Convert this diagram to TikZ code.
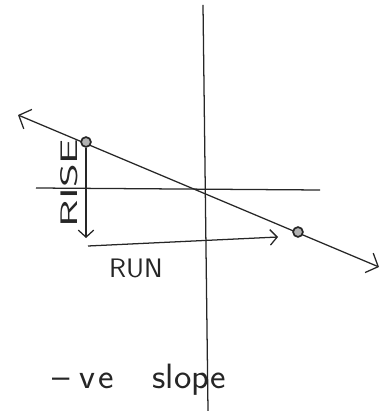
\documentclass[tikz,border=0pt]{standalone}
\usepackage{tikz}
\usepackage{graphicx}
\usetikzlibrary{arrows.meta}

\begin{document}
\begin{tikzpicture}[x=0.025cm, y=-0.025cm,
    pen/.style={line width=0.9pt, black!85},
    bigbarb/.style={{Straight Barb[length=7pt, width=15pt]}-{Straight Barb[length=7pt, width=15pt]}},
    barb/.style={-{Straight Barb[length=5pt, width=11pt]}},
    dot/.style={circle, draw=black!85, line width=1.2pt, fill=gray!60, inner sep=0pt, minimum size=7pt},
    hand/.style={black!85, font=\sffamily}]
    \useasboundingbox (0,0) rectangle (380,411);

    % Axes
    \coordinate (ytop) at (203,5);
    \coordinate (ybot) at (208,411);
    \coordinate (xleft) at (36,188);
    \coordinate (xright) at (320,190);
    \draw[pen] (ytop) -- (ybot);
    \draw[pen] (xleft) -- (xright);

    % Line going down to the right
    \coordinate (lstart) at (18,115);
    \coordinate (lend) at (379,267);
    \draw[pen, bigbarb] (lstart) -- (lend);

    % Two points on the line
    \node[dot] (p) at (86,142) {};
    \node[dot] (q) at (298,232) {};

    % Rise
    \coordinate (risebot) at (86,238);
    \draw[pen, barb] (p) -- (risebot);
    \node[hand, rotate=90, font=\sffamily\fontsize{17}{20}\selectfont]
        (rise) at (69,183) {\scalebox{1.9}[1]{RISE}};

    % Run
    \coordinate (runstart) at (88,246);
    \coordinate (runend) at (278,237);
    \draw[pen, barb] (runstart) -- (runend);
    \node[hand, font=\sffamily\fontsize{19}{22}\selectfont]
        (run) at (136,268) {\scalebox{1.05}[1]{RUN}};

    % Caption
    \node[hand, anchor=base west, inner sep=0pt, font=\sffamily\fontsize{25}{30}\selectfont]
        (cap) at (52,388) {\scalebox{1.05}[1]{--\hspace{7pt}v\hspace{2pt}e\hspace{26pt}slope}};
\end{tikzpicture}
\end{document}
